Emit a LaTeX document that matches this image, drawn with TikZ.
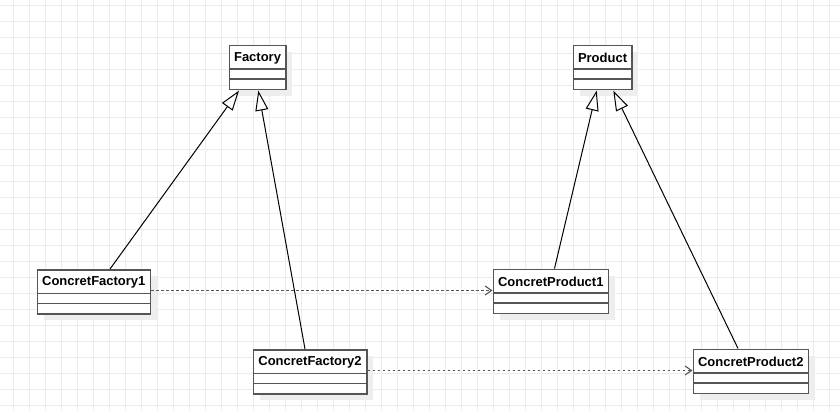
\documentclass[tikz,border=0pt]{standalone}
\usepackage{fontspec}
\setmainfont{Liberation Sans}
\usetikzlibrary{arrows.meta,calc}
\definecolor{gridc}{RGB}{236,236,236}
\definecolor{shadowc}{RGB}{238,238,238}
\definecolor{boxc}{RGB}{85,85,85}
\definecolor{depc}{RGB}{85,85,85}
\tikzset{
  classbox/.style={draw=boxc, line width=1.6pt, fill=white, rectangle, inner sep=0pt, anchor=north west},
  classtitle/.style={font=\bfseries\fontsize{13}{15}\selectfont, inner sep=0pt},
  divline/.style={draw=boxc, line width=1.6pt},
  inherit/.style={draw=black, line width=1pt, -{Triangle[open, length=20pt, width=13pt, line width=1pt]}},
  depend/.style={draw=depc, line width=1.2pt, dash pattern=on 2.5pt off 2.5pt, -{Straight Barb[length=6.5pt, width=9pt, line width=1.1pt]}},
}
\newcommand{\umlcls}[6]{% name, x, y, width, height, text
  \fill[shadowc] (#2+7,#3+7) rectangle ++(#4,#5);
  \node[classbox, minimum width=#4pt, minimum height=#5pt] (#1) at (#2,#3) {};
  \draw[divline] ($(#1.north west)+(0,24.5)$) -- ($(#1.north east)+(0,24.5)$);
  \draw[divline] ($(#1.north west)+(0,34.5)$) -- ($(#1.north east)+(0,34.5)$);
  \node[classtitle] (#1-t) at ($(#1.north)+(0,13.5)$) {#6};
}
\begin{document}
\begin{tikzpicture}[x=1pt,y=-1pt]
\useasboundingbox (0,0) rectangle (840,410);
\fill[white] (0,0) rectangle (840,410);
\foreach \i in {0,...,52} { \draw[gridc, line width=1pt] (13+16*\i,0) -- (13+16*\i,410); }
\foreach \j in {0,...,25} { \draw[gridc, line width=1pt] (0,5+16*\j) -- (840,5+16*\j); }

\umlcls{factory}{228.5}{44.5}{56.5}{44}{Factory}
\umlcls{product}{572.5}{44.5}{58.5}{44}{Product}
\umlcls{cf1}{36.5}{269}{113}{44}{ConcretFactory1}
\umlcls{cp1}{492.5}{268.5}{115}{44}{ConcretProduct1}
\umlcls{cf2}{252.5}{349}{113.5}{44}{ConcretFactory2}
\umlcls{cp2}{692.5}{348.5}{115}{44}{ConcretProduct2}

% inheritance
\draw[inherit] ($(cf1.north west)+(73.5,0)$) -- ($(factory.south west)+(10.5,0.5)$);
\draw[inherit] ($(cf2.north west)+(52.5,0)$) -- ($(factory.south west)+(29.8,0.5)$);
\draw[inherit] ($(cp1.north west)+(62,0)$) -- ($(product.south west)+(24.2,0.5)$);
\draw[inherit] ($(cp2.north west)+(45.5,0)$) -- ($(product.south west)+(40.8,0.5)$);

% dependencies
\draw[depend] ($(cf1.north east)+(0,21.5)$) -- ($(cp1.north west)+(0,22)$);
\draw[depend] ($(cf2.north east)+(0,21.5)$) -- ($(cp2.north west)+(0,22)$);
\end{tikzpicture}
\end{document}
